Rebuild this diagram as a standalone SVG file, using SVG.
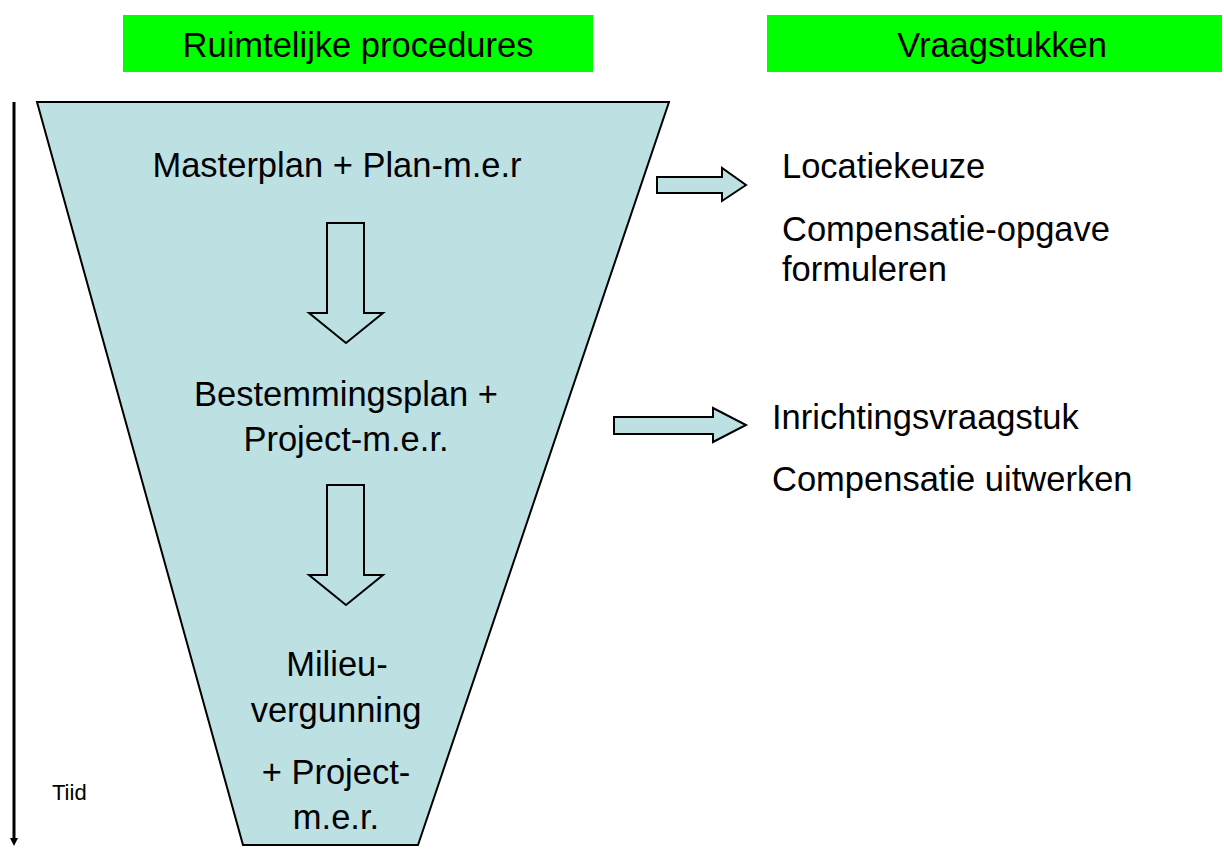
<svg xmlns="http://www.w3.org/2000/svg" width="1224" height="850" viewBox="0 0 1224 850">
<style>
text{font-family:"Liberation Sans",Arial,sans-serif;fill:#000}
.hdr{fill:#00ff00}
.shape{fill:#bde0e3;stroke:#000;stroke-width:2}
.big{font-size:34.5px}
.mid{font-size:34.5px}
.small{font-size:22px}
</style>
<defs>
<marker id="ah" markerWidth="10" markerHeight="8" refX="4" refY="4" orient="auto" markerUnits="userSpaceOnUse"><path d="M0,0 L8,4 L0,8 Z" fill="#000"/></marker>
</defs>
<rect width="1224" height="850" fill="#fff"/>
<g id="header-left"><rect class="hdr" x="123" y="15" width="470" height="57"/><text class="big" x="358" y="57" text-anchor="middle">Ruimtelijke procedures</text></g>
<g id="header-right"><rect class="hdr" x="767" y="15" width="455" height="57"/><text class="big" x="1002" y="57" text-anchor="middle">Vraagstukken</text></g>
<g id="funnel">
<polygon class="shape" points="37,102 669,102 418,845 243,845"/>
<text class="mid" x="337" y="177" text-anchor="middle">Masterplan + Plan-m.e.r</text>
<text class="mid" x="346" y="406" text-anchor="middle">Bestemmingsplan +</text>
<text class="mid" x="346" y="451" text-anchor="middle">Project-m.e.r.</text>
<text class="mid" x="337" y="676" text-anchor="middle">Milieu-</text>
<text class="mid" x="336" y="722" text-anchor="middle">vergunning</text>
<text class="mid" x="336" y="784" text-anchor="middle">+ Project-</text>
<text class="mid" x="336" y="829" text-anchor="middle">m.e.r.</text>
</g>
<g id="connectors">
<polygon class="shape" points="327,223 364,223 364,313 383,313 346,343 309,313 327,313"/>
<polygon class="shape" points="327,485 364,485 364,575 383,575 346,605 309,575 327,575"/>
<polygon class="shape" points="657,177 722,177 722,168 746,185 722,201 722,193 657,193"/>
<polygon class="shape" points="614,417 713,417 713,408 746,425 713,442 713,434 614,434"/>
<line x1="14" y1="102" x2="14" y2="842" stroke="#000" stroke-width="3" marker-end="url(#ah)"/>
</g>
<g id="questions-1">
<text class="mid" x="782" y="178">Locatiekeuze</text>
<text class="mid" x="782" y="241">Compensatie-opgave</text>
<text class="mid" x="782" y="281">formuleren</text>
</g>
<g id="questions-2">
<text class="mid" x="772" y="429">Inrichtingsvraagstuk</text>
<text class="mid" x="772" y="491">Compensatie uitwerken</text>
</g>
<g id="time-label"><text class="small" x="52" y="800">Tiid</text></g>
</svg>
